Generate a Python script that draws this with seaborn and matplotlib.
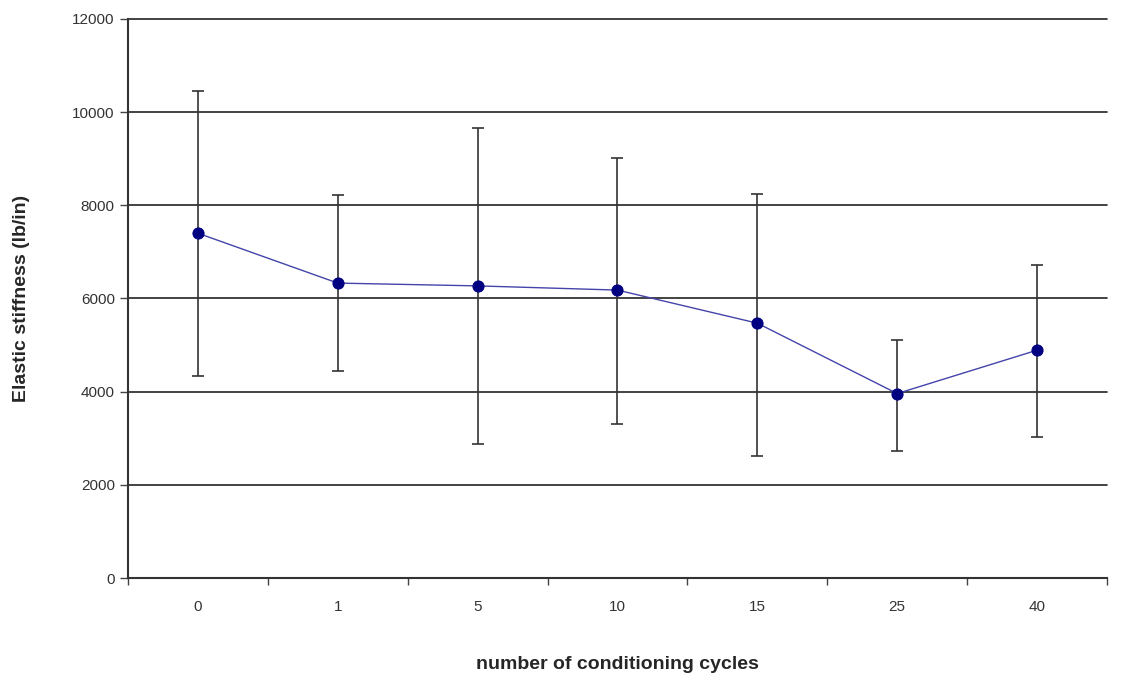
import matplotlib
matplotlib.use("Agg")
import matplotlib.pyplot as plt
import seaborn as sns
import pandas as pd
import numpy as np

cycles = ["0", "1", "5", "10", "15", "25", "40"]
stiffness_mean = [7400, 6330, 6270, 6180, 5470, 3960, 4890]
stiffness_upper = [10450, 8220, 9660, 9020, 8240, 5110, 6720]
stiffness_lower = [4340, 4440, 2880, 3300, 2620, 2720, 3030]

sns.set_theme(style="white")
plt.rcParams['font.family'] = ['Liberation Sans', 'DejaVu Sans']

df = pd.DataFrame({"cycles": cycles, "stiffness": stiffness_mean})

fig = plt.figure(figsize=(11.33, 6.73), dpi=100)
ax = fig.add_axes([0.113, 0.141, 0.864, 0.831])

pos = np.arange(len(cycles))
mean = np.array(stiffness_mean)
yerr = np.vstack([mean - np.array(stiffness_lower), np.array(stiffness_upper) - mean])
ax.errorbar(pos, mean, yerr=yerr, fmt="none", ecolor="#333333", elinewidth=1.2,
            capsize=4.5, capthick=1.2, zorder=2)

sns.pointplot(data=df, x="cycles", y="stiffness", order=cycles, ax=ax,
              color="#000080", markers="o", linestyles="-", errorbar=None,
              markersize=8, linewidth=1.0, zorder=3)
for ln in ax.lines:
    if ln.get_linestyle() == "-":
        ln.set_color("#4444aa")
        ln.set_markerfacecolor("#000080")
        ln.set_markeredgecolor("#000080")

ax.set_ylim(0, 12000)
ax.set_xlim(-0.5, len(cycles) - 0.5)
ax.set_yticks(np.arange(0, 12001, 2000))
ax.yaxis.grid(True, color="#222222", linewidth=1.2)
for gl in ax.yaxis.get_gridlines():
    gl.set_clip_on(False)
ax.set_axisbelow(True)

ax.set_xticks(pos)
ax.set_xticklabels(cycles)
ax.set_xticks(np.arange(-0.5, len(cycles) - 0.4, 1.0), minor=True)
ax.tick_params(axis="x", which="both", bottom=True)
ax.tick_params(axis="x", which="major", length=0, pad=16, labelsize=11, labelcolor="#333333")
ax.tick_params(axis="x", which="minor", length=5, width=1, color="#444444", direction="out")
ax.tick_params(axis="y", which="major", length=6, width=1, color="#444444", direction="out",
               labelsize=11, labelcolor="#333333", left=True)

for side in ["top", "right"]:
    ax.spines[side].set_visible(False)
for side in ["left", "bottom"]:
    ax.spines[side].set_color("#333333")
    ax.spines[side].set_linewidth(1.5)

ax.set_xlabel("number of conditioning cycles", fontsize=14, fontweight="bold")
ax.set_ylabel("Elastic stiffness (lb/in)", fontsize=14, fontweight="bold")
ax.xaxis.set_label_coords(0.5, -0.139)
ax.yaxis.set_label_coords(-0.100, 0.5)

fig.savefig("out.png", dpi=100, facecolor="white")
